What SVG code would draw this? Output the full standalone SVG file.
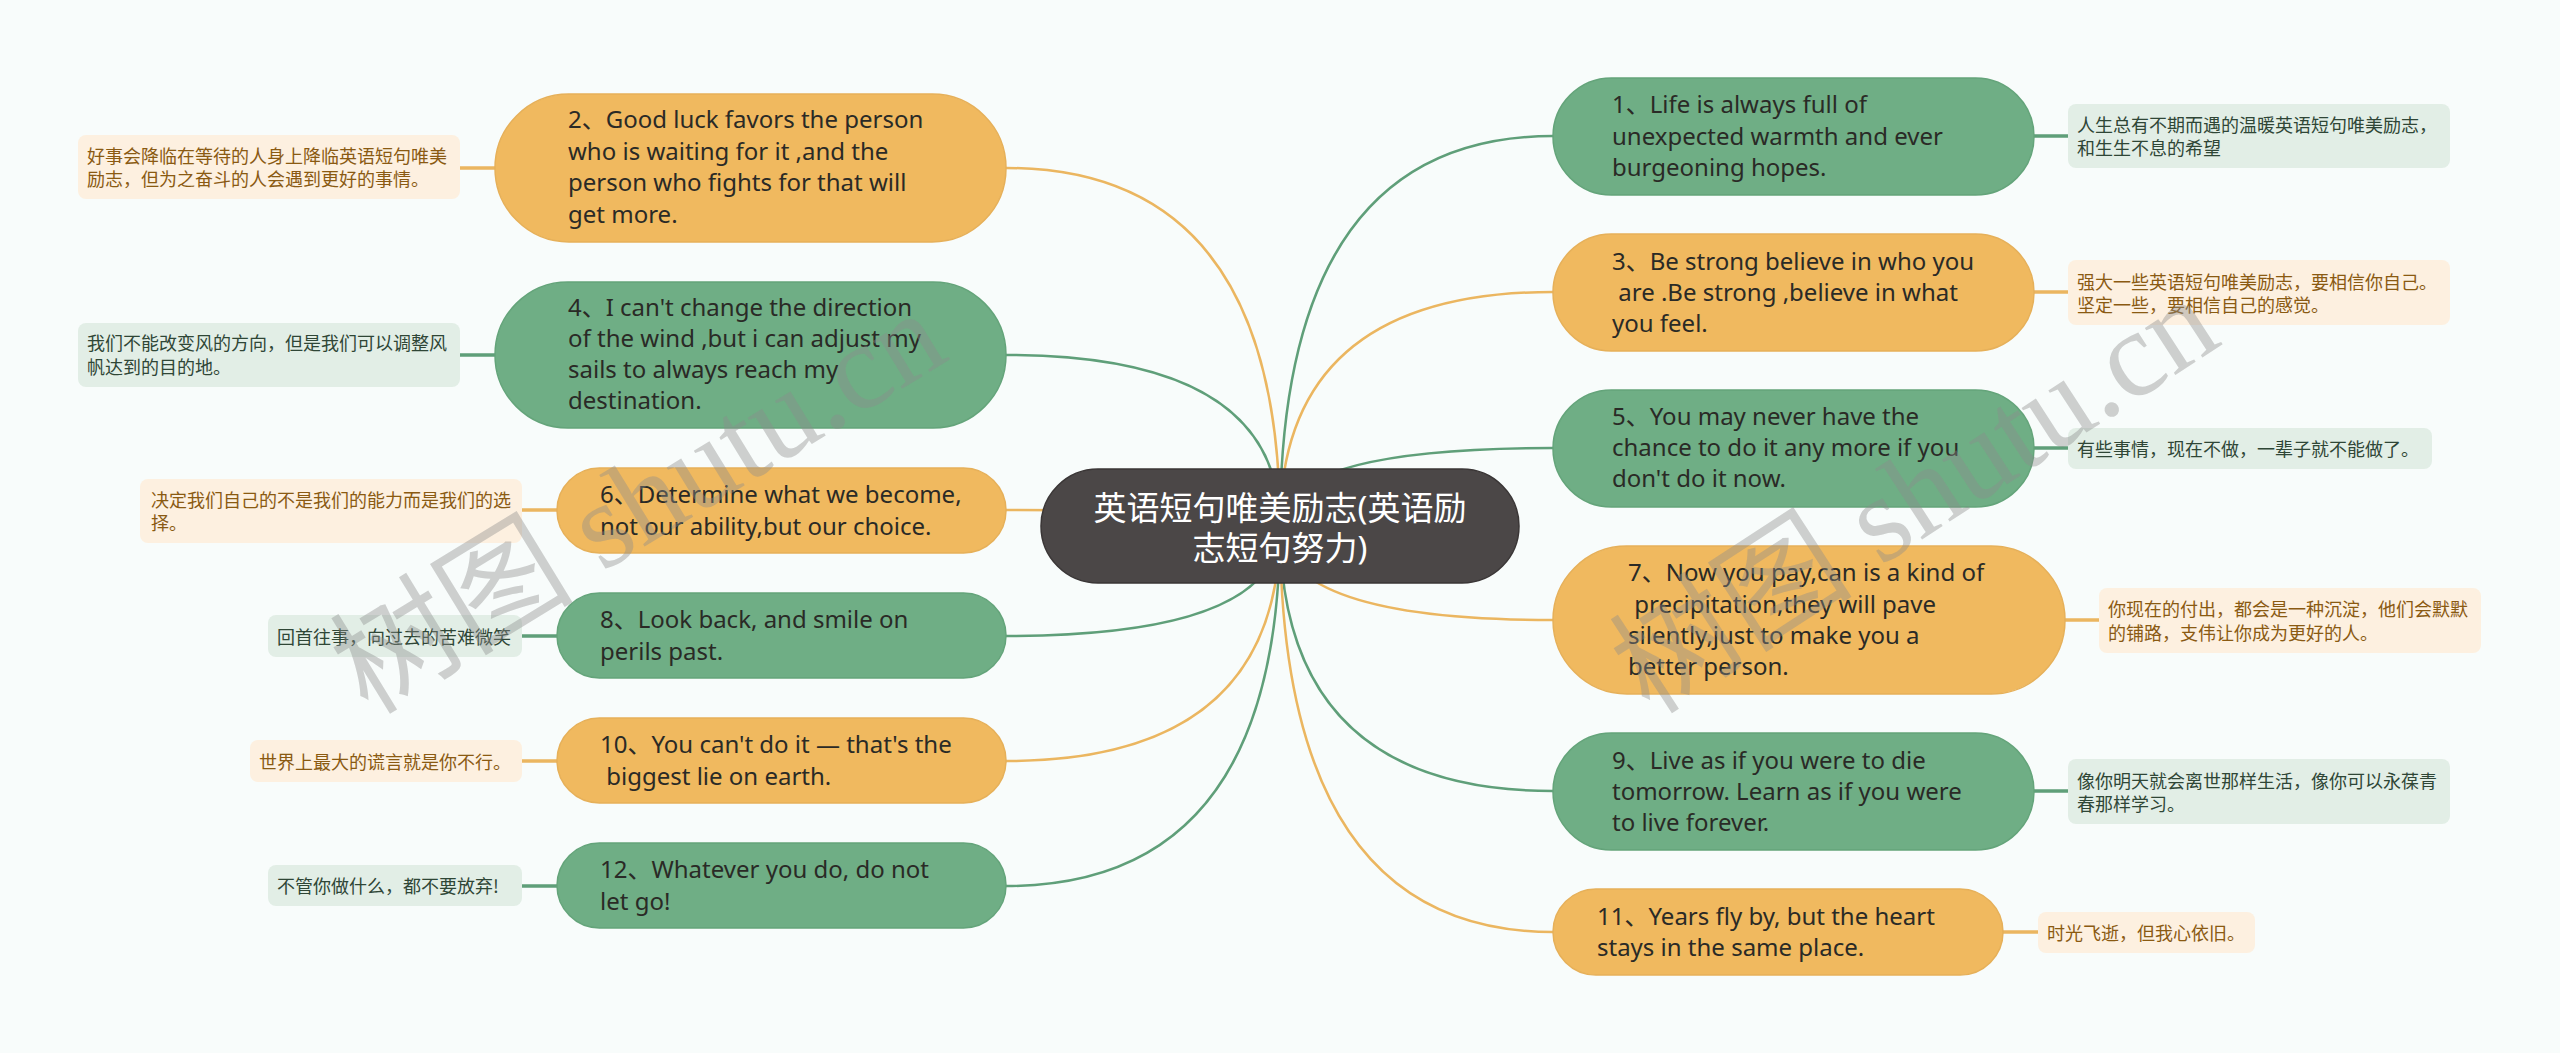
<svg xmlns="http://www.w3.org/2000/svg" width="2560" height="1053" viewBox="0 0 2560 1053">
<style>
.bg{fill:#f8fcfb}
.no{fill:#f0b95f;stroke:#e6b059;stroke-width:1.5}
.ng{fill:#6fae85;stroke:#64a47a;stroke-width:1.5}
.tm{font-family:"Noto Sans","Noto Sans CJK SC",sans-serif;font-size:24px;fill:#2a2a26}
.lo{fill:#fdf0e0}
.lg{fill:#e2eee6}
.lto{font-family:"Noto Sans CJK SC",sans-serif;font-size:18px;fill:#8a5a12}
.ltg{font-family:"Noto Sans CJK SC",sans-serif;font-size:18px;fill:#2f4636}
.co{fill:none;stroke:#ebb660;stroke-width:2.5}
.cg{fill:none;stroke:#5f9f79;stroke-width:2.5}
.lco{fill:none;stroke:#ebb660;stroke-width:3.5}
.lcg{fill:none;stroke:#5f9f79;stroke-width:3.5}
.wm{font-family:"Liberation Serif","Noto Sans CJK SC",serif;font-size:122px;fill:#8c8c8c;fill-opacity:0.4}
</style>
<rect class="bg" x="0" y="0" width="2560" height="1053"/>
<g id="connectors">
<path class="co" d="M1280,526 Q1280,168 1006,168"/>
<path class="cg" d="M1280,526 Q1280,355 1006,355"/>
<path class="co" d="M1280,526 Q1280,510 1006,510"/>
<path class="cg" d="M1280,526 Q1280,636 1006,636"/>
<path class="co" d="M1280,526 Q1280,761 1006,761"/>
<path class="cg" d="M1280,526 Q1280,886 1006,886"/>
<path class="cg" d="M1280,526 Q1280,136 1553,136"/>
<path class="co" d="M1280,526 Q1280,292 1553,292"/>
<path class="cg" d="M1280,526 Q1280,448 1553,448"/>
<path class="co" d="M1280,526 Q1280,620 1553,620"/>
<path class="cg" d="M1280,526 Q1280,791 1553,791"/>
<path class="co" d="M1280,526 Q1280,932 1553,932"/>
<path class="lco" d="M460,168 H495"/>
<path class="lcg" d="M460,355 H495"/>
<path class="lco" d="M522,510 H557"/>
<path class="lcg" d="M522,636 H557"/>
<path class="lco" d="M522,761 H557"/>
<path class="lcg" d="M522,886 H557"/>
<path class="lcg" d="M2034,136 H2068"/>
<path class="lco" d="M2034,292 H2068"/>
<path class="lcg" d="M2034,448 H2068"/>
<path class="lco" d="M2065,620 H2099"/>
<path class="lcg" d="M2034,791 H2068"/>
<path class="lco" d="M2003,932 H2038"/>
</g>
<g id="center">
<rect x="1041" y="469" width="478" height="114" rx="57" fill="#4b4747" stroke="#3a3636" stroke-width="1.5"/>
<text x="1280" y="520" text-anchor="middle" font-family="'Noto Sans','Noto Sans CJK SC',sans-serif" font-size="33" fill="#ffffff">英语短句唯美励志(英语励</text>
<text x="1280" y="560" text-anchor="middle" font-family="'Noto Sans','Noto Sans CJK SC',sans-serif" font-size="33" fill="#ffffff">志短句努力)</text>
</g>
<g id="node2">
<rect class="no" x="495" y="94" width="511" height="148" rx="74"/>
<text class="tm" x="568" y="128">2、Good luck favors the person</text>
<text class="tm" x="568" y="160">who is waiting for it ,and the</text>
<text class="tm" x="568" y="191">person who fights for that will</text>
<text class="tm" x="568" y="223">get more.</text>
</g>
<g id="leaf2">
<rect class="lo" x="78" y="135" width="382" height="64" rx="8"/>
<text class="lto" x="87" y="163">好事会降临在等待的人身上降临英语短句唯美</text>
<text class="lto" x="87" y="186">励志，但为之奋斗的人会遇到更好的事情。</text>
</g>
<g id="node4">
<rect class="ng" x="495" y="282" width="511" height="146" rx="73"/>
<text class="tm" x="568" y="316">4、I can't change the direction</text>
<text class="tm" x="568" y="347">of the wind ,but i can adjust my</text>
<text class="tm" x="568" y="378">sails to always reach my</text>
<text class="tm" x="568" y="409">destination.</text>
</g>
<g id="leaf4">
<rect class="lg" x="78" y="323" width="382" height="64" rx="8"/>
<text class="ltg" x="87" y="350">我们不能改变风的方向，但是我们可以调整风</text>
<text class="ltg" x="87" y="374">帆达到的目的地。</text>
</g>
<g id="node6">
<rect class="no" x="557" y="468" width="449" height="85" rx="42.5"/>
<text class="tm" x="600" y="503">6、Determine what we become,</text>
<text class="tm" x="600" y="535">not our ability,but our choice.</text>
</g>
<g id="leaf6">
<rect class="lo" x="140" y="479" width="382" height="64" rx="8"/>
<text class="lto" x="151" y="507">决定我们自己的不是我们的能力而是我们的选</text>
<text class="lto" x="151" y="530">择。</text>
</g>
<g id="node8">
<rect class="ng" x="557" y="593" width="449" height="85" rx="42.5"/>
<text class="tm" x="600" y="628">8、Look back, and smile on</text>
<text class="tm" x="600" y="660">perils past.</text>
</g>
<g id="leaf8">
<rect class="lg" x="268" y="615" width="254" height="42" rx="8"/>
<text class="ltg" x="277" y="644">回首往事，向过去的苦难微笑</text>
</g>
<g id="node10">
<rect class="no" x="557" y="718" width="449" height="85" rx="42.5"/>
<text class="tm" x="600" y="753">10、You can't do it — that's the</text>
<text class="tm" x="600" y="785" xml:space="preserve"> biggest lie on earth.</text>
</g>
<g id="leaf10">
<rect class="lo" x="250" y="740" width="272" height="42" rx="8"/>
<text class="lto" x="259" y="769">世界上最大的谎言就是你不行。</text>
</g>
<g id="node12">
<rect class="ng" x="557" y="843" width="449" height="85" rx="42.5"/>
<text class="tm" x="600" y="878">12、Whatever you do, do not</text>
<text class="tm" x="600" y="910">let go!</text>
</g>
<g id="leaf12">
<rect class="lg" x="268" y="865" width="254" height="41" rx="8"/>
<text class="ltg" x="277" y="893">不管你做什么，都不要放弃!</text>
</g>
<g id="node1">
<rect class="ng" x="1553" y="78" width="481" height="117" rx="58.5"/>
<text class="tm" x="1612" y="113">1、Life is always full of</text>
<text class="tm" x="1612" y="145">unexpected warmth and ever</text>
<text class="tm" x="1612" y="176">burgeoning hopes.</text>
</g>
<g id="leaf1">
<rect class="lg" x="2068" y="104" width="382" height="64" rx="8"/>
<text class="ltg" x="2077" y="132">人生总有不期而遇的温暖英语短句唯美励志，</text>
<text class="ltg" x="2077" y="155">和生生不息的希望</text>
</g>
<g id="node3">
<rect class="no" x="1553" y="234" width="481" height="117" rx="58.5"/>
<text class="tm" x="1612" y="270">3、Be strong believe in who you</text>
<text class="tm" x="1612" y="301" xml:space="preserve"> are .Be strong ,believe in what</text>
<text class="tm" x="1612" y="332">you feel.</text>
</g>
<g id="leaf3">
<rect class="lo" x="2068" y="260" width="382" height="65" rx="8"/>
<text class="lto" x="2077" y="289">强大一些英语短句唯美励志，要相信你自己。</text>
<text class="lto" x="2077" y="312">坚定一些，要相信自己的感觉。</text>
</g>
<g id="node5">
<rect class="ng" x="1553" y="390" width="481" height="117" rx="58.5"/>
<text class="tm" x="1612" y="425">5、You may never have the</text>
<text class="tm" x="1612" y="456">chance to do it any more if you</text>
<text class="tm" x="1612" y="487">don't do it now.</text>
</g>
<g id="leaf5">
<rect class="lg" x="2068" y="428" width="364" height="41" rx="8"/>
<text class="ltg" x="2077" y="456">有些事情，现在不做，一辈子就不能做了。</text>
</g>
<g id="node7">
<rect class="no" x="1553" y="546" width="512" height="148" rx="74"/>
<text class="tm" x="1628" y="581">7、Now you pay,can is a kind of</text>
<text class="tm" x="1628" y="613" xml:space="preserve"> precipitation,they will pave</text>
<text class="tm" x="1628" y="644">silently,just to make you a</text>
<text class="tm" x="1628" y="675">better person.</text>
</g>
<g id="leaf7">
<rect class="lo" x="2099" y="588" width="382" height="65" rx="8"/>
<text class="lto" x="2108" y="616">你现在的付出，都会是一种沉淀，他们会默默</text>
<text class="lto" x="2108" y="640">的铺路，支伟让你成为更好的人。</text>
</g>
<g id="node9">
<rect class="ng" x="1553" y="733" width="481" height="117" rx="58.5"/>
<text class="tm" x="1612" y="769">9、Live as if you were to die</text>
<text class="tm" x="1612" y="800">tomorrow. Learn as if you were</text>
<text class="tm" x="1612" y="831">to live forever.</text>
</g>
<g id="leaf9">
<rect class="lg" x="2068" y="759" width="382" height="65" rx="8"/>
<text class="ltg" x="2077" y="788">像你明天就会离世那样生活，像你可以永葆青</text>
<text class="ltg" x="2077" y="811">春那样学习。</text>
</g>
<g id="node11">
<rect class="no" x="1553" y="889" width="450" height="86" rx="43"/>
<text class="tm" x="1597" y="925">11、Years fly by, but the heart</text>
<text class="tm" x="1597" y="956">stays in the same place.</text>
</g>
<g id="leaf11">
<rect class="lo" x="2038" y="912" width="217" height="41" rx="8"/>
<text class="lto" x="2047" y="940">时光飞逝，但我心依旧。</text>
</g>
<g id="watermark">
<text class="wm" transform="translate(368,716) rotate(-31.5)">树图 shutu.cn</text>
<text class="wm" transform="translate(1650,716) rotate(-33)">树图 shutu.cn</text>
</g>
</svg>
